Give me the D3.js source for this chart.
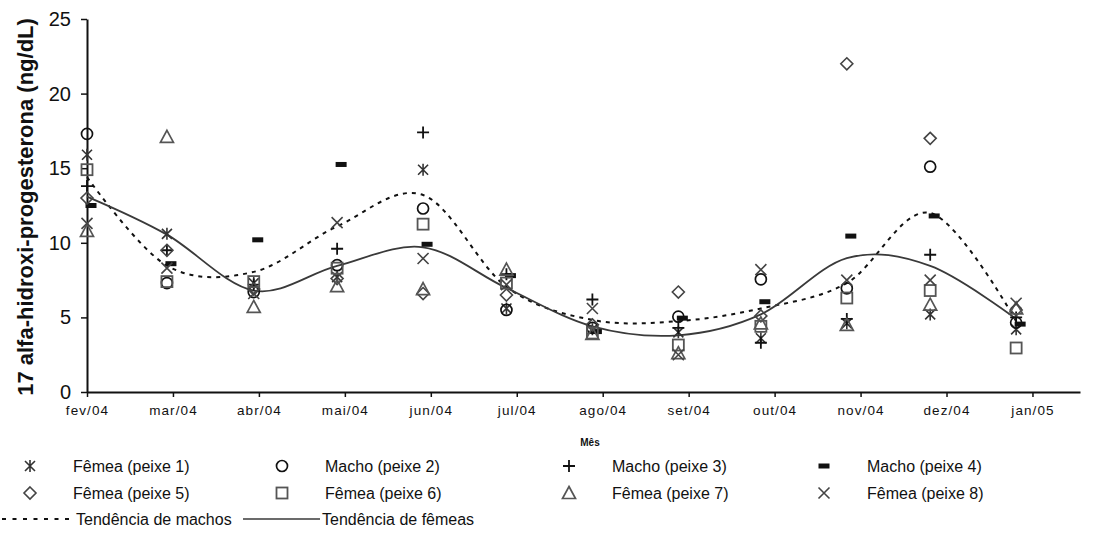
<!DOCTYPE html>
<html><head><meta charset="utf-8">
<script src="https://cdn.jsdelivr.net/npm/d3@7"></script>
<style>body{margin:0;background:#fff} svg{display:block;font-family:"Liberation Sans",Arial,sans-serif}</style>
</head><body><svg id="c" width="1097" height="547"></svg>
<script>
// ---- data ----
const months = ["fev/04","mar/04","abr/04","mai/04","jun/04","jul/04","ago/04","set/04","out/04","nov/04","dez/04","jan/05"];
// sampling position of each collection, in months after fev/04
const sampleMonth = [0, 0.93, 1.94, 2.91, 3.91, 4.88, 5.88, 6.88, 7.84, 8.84, 9.81, 10.81];
const yTicks = [0, 5, 10, 15, 20, 25];

const peixe1 = [15.9, 10.6, 7.3, 7.7, 14.9, 5.6, 4.2, 4.0, 3.6, 4.6, 5.2, 4.2];
const peixe2 = [17.3, 7.3, 6.7, 8.5, 12.3, 5.5, 4.3, 5.05, 7.55, 6.95, 15.1, 4.65];
const peixe3 = [13.8, 9.5, 7.2, 9.6, 17.4, 7.9, 6.2, 4.3, 3.3, 4.9, 9.2, 5.0];
const peixe4 = [12.5, 8.6, 10.2, 15.25, 9.9, 7.8, 4.05, 4.95, 6.05, 10.45, 11.8, 4.55];
const peixe5 = [13.0, 9.5, 6.9, 7.6, 6.6, 6.5, 4.5, 6.7, 5.1, 22.0, 17.0, 5.5];
const peixe6 = [14.9, 7.4, 7.4, 8.3, 11.25, 7.3, 3.95, 3.15, 4.4, 6.3, 6.8, 2.95];
const peixe7 = [10.8, 17.1, 5.7, 7.1, 6.9, 8.2, 3.9, 2.6, 4.6, 4.5, 5.85, 5.6];
const peixe8 = [11.3, 8.3, 6.6, 11.35, 8.95, 7.2, 5.6, 2.5, 8.2, 7.5, 7.5, 5.95];

const trendMachos = [14.4, 8.47, 8.05, 11.1, 13.2, 7.05, 4.83, 4.75, 5.6, 7.3, 12.0, 4.75];
const trendFemeas = [13.1, 10.55, 6.8, 8.45, 9.7, 6.97, 4.4, 3.8, 5.2, 8.97, 8.45, 4.9];

const seriesNames = ["Fêmea (peixe 1)","Macho (peixe 2)","Macho (peixe 3)","Macho (peixe 4)",
                     "Fêmea (peixe 5)","Fêmea (peixe 6)","Fêmea (peixe 7)","Fêmea (peixe 8)"];
const trendNames = ["Tendência de machos","Tendência de fêmeas"];
const yTitle = "17 alfa-hidroxi-progesterona (ng/dL)";
const xTitle = "Mês";

// ---- styles ----
const series = [
  {data: peixe1, shape: "asterisk", color: "#333"},
  {data: peixe2, shape: "circle",   color: "#111"},
  {data: peixe3, shape: "plus",     color: "#111"},
  {data: peixe4, shape: "dash",     color: "#111"},
  {data: peixe5, shape: "diamond",  color: "#444"},
  {data: peixe6, shape: "square",   color: "#555"},
  {data: peixe7, shape: "triangle", color: "#555"},
  {data: peixe8, shape: "cross",    color: "#444"}
];

const svg = d3.select("#c");
const x = d3.scaleLinear().domain([0, 11.553]).range([87, 1080]);
const y = d3.scaleLinear().domain([0, 25]).range([392, 19]);

function marker(g, shape, cx, cy, color, plot) {
  const s = g.append("g").attr("transform", `translate(${cx},${cy})`)
    .attr("fill", "none").attr("stroke", color).attr("stroke-width", 1.6);
  if (shape === "asterisk") {
    s.append("path").attr("d", "M-5,-5L5,5M-5,5L5,-5M0,-6L0,6");
  } else if (shape === "circle") {
    s.append("circle").attr("r", 5.5).attr("stroke-width", 1.7);
  } else if (shape === "plus") {
    s.append("path").attr("d", "M-6,0L6,0M0,-6L0,6").attr("stroke-width", 1.8);
  } else if (shape === "dash") {
    s.append("rect").attr("x", plot ? -1.5 : -5.5).attr("y", -2.5).attr("width", 11).attr("height", 5)
      .attr("fill", color).attr("stroke", "none");
  } else if (shape === "diamond") {
    s.append("path").attr("d", "M0,-6L6,0L0,6L-6,0Z");
  } else if (shape === "square") {
    s.append("rect").attr("x", -5.5).attr("y", -5.5).attr("width", 11).attr("height", 11).attr("stroke-width", 1.8);
  } else if (shape === "triangle") {
    s.append("path").attr("d", "M0,-6.5L6.5,5.5L-6.5,5.5Z").attr("stroke-width", 1.7);
  } else if (shape === "cross") {
    s.append("path").attr("d", "M-5.5,-5.5L5.5,5.5M-5.5,5.5L5.5,-5.5");
  }
}

// ---- axes ----
const yAxis = svg.append("g").attr("transform", "translate(87,0)")
  .call(d3.axisLeft(y).tickValues(yTicks).tickSize(6).tickSizeOuter(0).tickPadding(10));
yAxis.select(".domain").attr("stroke", "#111").attr("stroke-width", 2);
yAxis.selectAll(".tick line").attr("stroke", "#111").attr("stroke-width", 1.5);
yAxis.selectAll(".tick text").attr("font-size", 20).attr("fill", "#111")
  .attr("font-family", "Liberation Sans, Arial, sans-serif");

const xAxis = svg.append("g").attr("transform", "translate(0,392)")
  .call(d3.axisBottom(x).tickValues(d3.range(months.length)).tickFormat(i => months[i])
    .tickSize(5).tickSizeOuter(0).tickPadding(8));
xAxis.select(".domain").attr("stroke", "#111").attr("stroke-width", 2);
xAxis.selectAll(".tick line").attr("stroke", "#111").attr("stroke-width", 1.5);
xAxis.selectAll(".tick text").attr("font-size", 13.5).attr("fill", "#111")
  .attr("letter-spacing", 1.1).attr("font-family", "Liberation Sans, Arial, sans-serif");

svg.append("text").attr("transform", "translate(33,207) rotate(-90)")
  .attr("text-anchor", "middle").attr("font-size", 22).attr("font-weight", "bold").attr("fill", "#111")
  .text(yTitle);
svg.append("text").attr("x", 590).attr("y", 446).attr("text-anchor", "middle")
  .attr("font-size", 10).attr("font-weight", "bold").attr("fill", "#111").text(xTitle);

// ---- trend lines ----
const line = d3.line().x((d, i) => x(sampleMonth[i])).y(d => y(d)).curve(d3.curveCardinal.tension(0));
svg.append("path").attr("d", line(trendMachos)).attr("fill", "none")
  .attr("stroke", "#111").attr("stroke-width", 2).attr("stroke-dasharray", "4,5");
svg.append("path").attr("d", line(trendFemeas)).attr("fill", "none")
  .attr("stroke", "#3a3a3a").attr("stroke-width", 1.8);

// ---- points ----
const pts = svg.append("g");
series.forEach(s => {
  s.data.forEach((v, i) => marker(pts, s.shape, x(sampleMonth[i]), y(v), s.color, true));
});

// ---- legend ----
const legCols = [30, 282, 569, 824];
const legRows = [466, 493];
const leg = svg.append("g");
series.forEach((s, k) => {
  const cx = legCols[k % 4], cy = legRows[Math.floor(k / 4)];
  marker(leg, s.shape, cx, cy, s.color, false);
  leg.append("text").attr("x", cx + 43).attr("y", cy).attr("dy", "0.35em")
    .attr("font-size", 16).attr("fill", "#111").text(seriesNames[k]);
});
const ly = 519;
leg.append("line").attr("x1", 2).attr("x2", 74).attr("y1", ly).attr("y2", ly)
  .attr("stroke", "#111").attr("stroke-width", 1.8).attr("stroke-dasharray", "4,6.5");
leg.append("text").attr("x", 76).attr("y", ly).attr("dy", "0.35em").attr("font-size", 16).attr("fill", "#111").text(trendNames[0]);
leg.append("line").attr("x1", 243).attr("x2", 320).attr("y1", ly).attr("y2", ly)
  .attr("stroke", "#3a3a3a").attr("stroke-width", 1.6);
leg.append("text").attr("x", 322).attr("y", ly).attr("dy", "0.35em").attr("font-size", 16).attr("fill", "#111").text(trendNames[1]);
</script></body></html>
